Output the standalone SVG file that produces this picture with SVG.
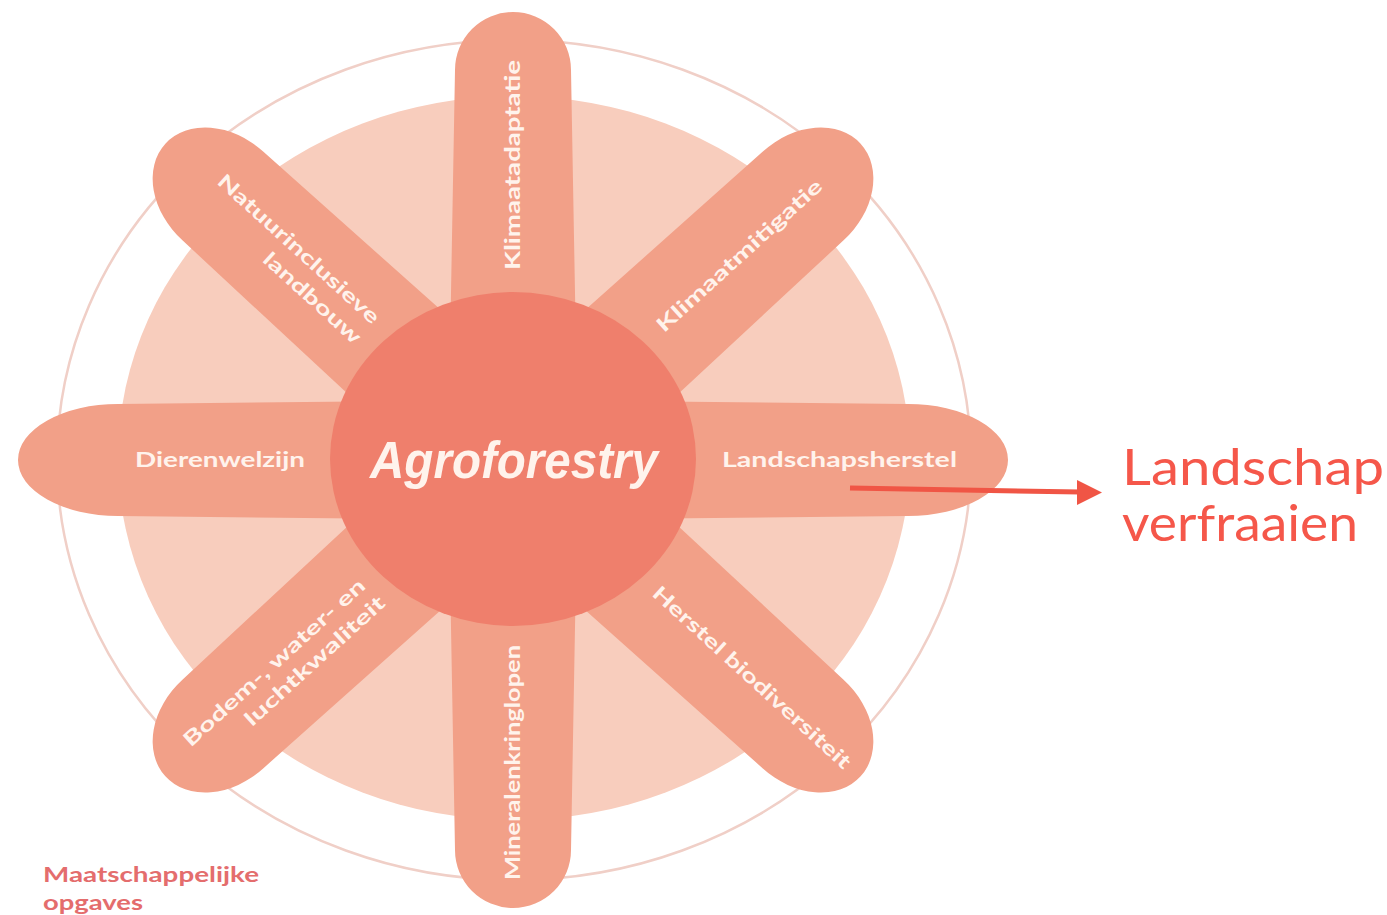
<svg xmlns="http://www.w3.org/2000/svg" width="1387" height="915" viewBox="0 0 1387 915">
<style>
.petal{fill:#f2a088}
.lbl{font-family:Lato,"Liberation Sans",sans-serif;font-weight:700;font-size:20px;fill:#fff3ec}
.callout{font-family:Lato,"Liberation Sans",sans-serif;font-weight:400;font-size:50px;fill:#f5574a}
</style>
<defs>
<path id="petal-h" d="M0,-60 L395,-56 A100 56 0 0 1 395,56 L0,60 Z"/>
<path id="petal-v" d="M0,-65 L390,-58 A58 58 0 0 1 390,58 L0,65 Z"/>
<path id="petal-d" d="M0,-64 L392,-60 A78 60 0 0 1 392,60 L0,64 Z"/>
</defs>
<rect width="1387" height="915" fill="#ffffff"/>
<g id="background">
<ellipse cx="514" cy="460" rx="457" ry="420" fill="none" stroke="#f0cfc7" stroke-width="2.5"/>
<ellipse cx="514" cy="458" rx="396" ry="362" fill="#f8cdbd"/>
</g>
<g id="petal-klimaatadaptatie">
<use href="#petal-v" class="petal" transform="translate(513,460) rotate(-90)"/>
<text class="lbl" transform="translate(513,460) rotate(-90)" x="190" y="7" textLength="210" lengthAdjust="spacingAndGlyphs">Klimaatadaptatie</text>
</g>
<g id="petal-mineralenkringlopen">
<use href="#petal-v" class="petal" transform="translate(513,460) rotate(90)"/>
<text class="lbl" transform="translate(513,460) rotate(-90)" x="-420" y="7" textLength="235" lengthAdjust="spacingAndGlyphs">Mineralenkringlopen</text>
</g>
<g id="petal-dierenwelzijn">
<use href="#petal-h" class="petal" transform="translate(513,460) rotate(180)"/>
<text class="lbl" x="135" y="467" textLength="170" lengthAdjust="spacingAndGlyphs">Dierenwelzijn</text>
</g>
<g id="petal-landschapsherstel">
<use href="#petal-h" class="petal" transform="translate(513,460)"/>
<text class="lbl" x="722" y="467" textLength="235" lengthAdjust="spacingAndGlyphs">Landschapsherstel</text>
</g>
<g id="petal-klimaatmitigatie">
<use href="#petal-d" class="petal" transform="translate(513,460) rotate(-42.3)"/>
<text class="lbl" transform="translate(513,460) rotate(-42.3)" x="197" y="8" textLength="216" lengthAdjust="spacingAndGlyphs">Klimaatmitigatie</text>
</g>
<g id="petal-herstel-biodiversiteit">
<use href="#petal-d" class="petal" transform="translate(513,460) rotate(42.3)"/>
<text class="lbl" transform="translate(513,460) rotate(42.3)" x="193" y="7" textLength="260" lengthAdjust="spacingAndGlyphs">Herstel biodiversiteit</text>
</g>
<g id="petal-natuurinclusieve-landbouw">
<use href="#petal-d" class="petal" transform="translate(513,460) rotate(-137.7)"/>
<g transform="translate(513,460) rotate(42.3)">
<text class="lbl" x="-195" y="-5" text-anchor="end" textLength="211" lengthAdjust="spacingAndGlyphs">Natuurinclusieve</text>
<text class="lbl" x="-195" y="22" text-anchor="end" textLength="125" lengthAdjust="spacingAndGlyphs">landbouw</text>
</g>
</g>
<g id="petal-bodem-water-lucht">
<use href="#petal-d" class="petal" transform="translate(513,460) rotate(137.7)"/>
<g transform="translate(513,460) rotate(-42.3)">
<text class="lbl" x="-194" y="-4" text-anchor="end" textLength="238" lengthAdjust="spacingAndGlyphs">Bodem-, water- en</text>
<text class="lbl" x="-191" y="22" text-anchor="end" textLength="182" lengthAdjust="spacingAndGlyphs">luchtkwaliteit</text>
</g>
</g>
<g id="center">
<ellipse cx="513" cy="459" rx="183" ry="167" fill="#ef7f6c"/>
<text x="370" y="478" font-family="'Liberation Sans',Arial,sans-serif" font-weight="700" font-style="italic" font-size="52" fill="#fff3ec" textLength="288" lengthAdjust="spacingAndGlyphs">Agroforestry</text>
</g>
<g id="legend">
<text x="43" y="882" font-family="Lato,'Liberation Sans',sans-serif" font-weight="700" font-size="21" fill="#e46d6d" textLength="216" lengthAdjust="spacingAndGlyphs">Maatschappelijke</text>
<text x="43" y="910" font-family="Lato,'Liberation Sans',sans-serif" font-weight="700" font-size="21" fill="#e46d6d" textLength="100" lengthAdjust="spacingAndGlyphs">opgaves</text>
</g>
<g id="callout">
<text class="callout" x="1122" y="485" textLength="262" lengthAdjust="spacingAndGlyphs">Landschap</text>
<text class="callout" x="1122" y="541" textLength="236" lengthAdjust="spacingAndGlyphs">verfraaien</text>
</g>
<g id="connectors">
<line x1="850" y1="488" x2="1080" y2="492" stroke="#f05545" stroke-width="5"/>
<polygon points="1077,480 1102,492.5 1077,505" fill="#f05545"/>
</g>
</svg>
